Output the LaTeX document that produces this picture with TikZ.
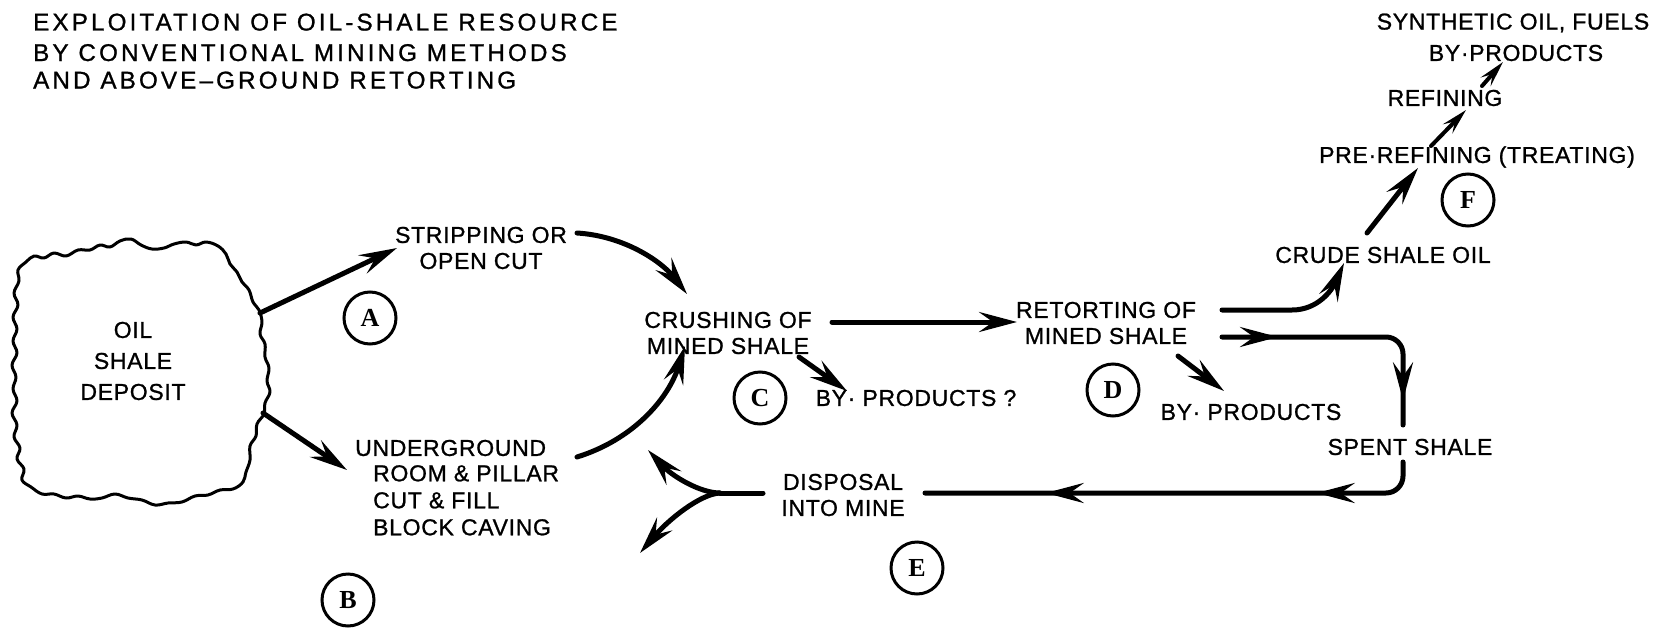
\documentclass[tikz,border=0pt]{standalone}
\usepackage{fontspec}
\setmainfont{Liberation Sans}[LetterSpace=3, FakeBold=1]
\newfontfamily\titlefont{Liberation Sans}[LetterSpace=13, FakeBold=1]
\newfontfamily\circfont{Liberation Serif}
\usetikzlibrary{arrows.meta, decorations.markings}
\newcommand{\myhead}{\arrow{Stealth[length=38pt,width=20pt,inset=14pt]}}
\begin{document}
\begin{tikzpicture}[x=1pt,y=-1pt,
  lbl/.style={font=\fontsize{23}{26}\selectfont, align=center, inner sep=0pt},
  ttl/.style={font=\titlefont\fontsize{24.2}{28}\selectfont, anchor=base west, inner sep=0pt},
  letter/.style={circle, draw, line width=3pt, minimum size=52pt, inner sep=0pt, font=\circfont\bfseries\fontsize{26}{26}\selectfont},
  flow/.style={line width=5pt, line cap=round, -{Stealth[length=38pt,width=20pt,inset=14pt]}},
  flowsm/.style={line width=4pt, line cap=round, -{Stealth[length=26pt,width=13pt,inset=10pt]}},
  pipe/.style={line width=5pt, line cap=round},
  blob/.style={line width=3pt, line join=round},
]
\useasboundingbox[fill=white] (0,0) rectangle (1665,629);

% title
\node[ttl] (t1) at (33,30.5) {EXPLOITATION OF OIL-SHALE RESOURCE};
\node[ttl] (t2) at (33,61) {BY CONVENTIONAL MINING METHODS};
\node[ttl] (t3) at (33,88.5) {AND ABOVE–GROUND RETORTING};

% deposit blob
\draw[blob] plot[smooth cycle, tension=0.65] coordinates {
 (26,262) (34,256) (44,258) (54,253) (66,256) (78,250) (90,250) (100,245) (110,247)
 (120,241) (131,239) (141,245) (152,249) (164,248) (174,244) (186,242) (196,245)
 (206,242) (218,246) (226,254)
 (230,264) (237,272) (242,282) (249,290) (253,302) (259,310) (262,322) (260,334)
 (265,344) (265,357) (269,368) (267,381) (270,392) (265,403) (264,414) (257,424)
 (256,436) (250,446) (250,460) (246,472) (243,482)
 (233,489) (220,490) (208,495) (195,496) (182,502) (168,503) (155,505) (142,500)
 (128,498) (115,494) (102,498) (90,499) (78,496) (66,498) (54,494) (42,494) (31,487)
 (22,480) (24,469) (17,459) (20,448) (14,437) (17,425) (12,413) (17,401) (13,389)
 (16,377) (12,365) (17,353) (13,341) (17,329) (13,317) (18,305) (14,293) (19,281) (18,270)};
\node[lbl, font=\fontsize{23}{31}\selectfont] (deposit) at (133,361) {OIL\\SHALE\\DEPOSIT};

% labels
\node[lbl] (strip) at (481,248) {STRIPPING OR\\OPEN CUT};
\node[lbl, anchor=west] (under) at (355,448) {UNDERGROUND};
\node[lbl, font=\fontsize{23}{27}\selectfont, align=left, anchor=north west] (meth) at (373,465) {ROOM \& PILLAR\\CUT \& FILL\\BLOCK CAVING};
\node[lbl] (crush) at (728,333) {CRUSHING OF\\MINED SHALE};
\node[lbl] (retort) at (1106,323) {RETORTING OF\\MINED SHALE};
\node[lbl] (byc) at (916,398) {BY· PRODUCTS ?};
\node[lbl] (byd) at (1251,412) {BY· PRODUCTS};
\node[lbl] (spent) at (1410,447) {SPENT SHALE};
\node[lbl] (disp) at (843,495) {DISPOSAL\\INTO MINE};
\node[lbl] (crude) at (1383,255) {CRUDE SHALE OIL};
\node[lbl] (pre) at (1477,157) {PRE·REFINING (TREATING)};
\node[lbl] (refn) at (1445,98) {REFINING};
\node[lbl] (byf) at (1516,53) {BY·PRODUCTS};
\node[lbl] (syn) at (1513,23) {SYNTHETIC OIL, FUELS};

% circled letters
\node[letter] (cA) at (370,318) {A};
\node[letter] (cB) at (348,600) {B};
\node[letter] (cC) at (760,398) {C};
\node[letter] (cD) at (1113,390) {D};
\node[letter] (cE) at (917,568) {E};
\node[letter] (cF) at (1468,200) {F};

% connector end points
\coordinate (dA) at (260,313);
\coordinate (dB) at (263,413);
\coordinate (sA) at (397,248);
\coordinate (uA) at (347,470);
\coordinate (s1) at (577,233);
\coordinate (c1) at (687,294);
\coordinate (u1) at (577,457);
\coordinate (c2) at (685,346);
\coordinate (c3) at (832,322);
\coordinate (r1) at (1017,322);
\coordinate (c4) at (799,357);
\coordinate (c5) at (847,391);
\coordinate (r2) at (1178,356);
\coordinate (r3) at (1224,391);
\coordinate (r4) at (1222,310);
\coordinate (cr1) at (1344,263);
\coordinate (r5) at (1222,337);
\coordinate (sp1) at (1403,425);
\coordinate (sp2) at (1403,462);
\coordinate (d1) at (925,493);
\coordinate (d2) at (763,493);
\coordinate (fk) at (720,493);
\coordinate (f1) at (648,450);
\coordinate (f2) at (640,553);
\coordinate (cr2) at (1367,233);
\coordinate (p1) at (1418,168);
\coordinate (p2) at (1431,146);
\coordinate (rf1) at (1466,110);
\coordinate (rf2) at (1482,86);
\coordinate (bf1) at (1503,62);

% connectors
\draw[flow] (dA) -- (sA);
\draw[flow] (dB) -- (uA);
\draw[flow] (s1) .. controls (625,236) and (662,262) .. (c1);
\draw[flow] (u1) .. controls (632,440) and (668,400) .. (c2);
\draw[flow] (c3) -- (r1);
\draw[flow] (c4) -- (c5);
\draw[flow] (r2) -- (r3);
\draw[flow] (r4) -- (1292,310) .. controls (1318,310) and (1332,290) .. (cr1);
\draw[pipe, rounded corners=17pt, postaction={decorate},
  decoration={markings, mark=at position 56pt with {\myhead}, mark=at position 237pt with {\myhead}}]
  (r5) -- (1403,337) -- (sp1);
\draw[pipe, rounded corners=17pt, postaction={decorate},
  decoration={markings, mark=at position 110pt with {\myhead}, mark=at position 381pt with {\myhead}}]
  (sp2) -- (1403,493) -- (d1);
\draw[pipe] (d2) -- (fk);
\draw[flow] (fk) .. controls (700,493) and (672,476) .. (f1);
\draw[flow] (fk) .. controls (700,494) and (668,520) .. (f2);
\draw[flow] (cr2) -- (p1);
\draw[flowsm] (p2) -- (rf1);
\draw[flowsm] (rf2) -- (bf1);
\end{tikzpicture}
\end{document}
